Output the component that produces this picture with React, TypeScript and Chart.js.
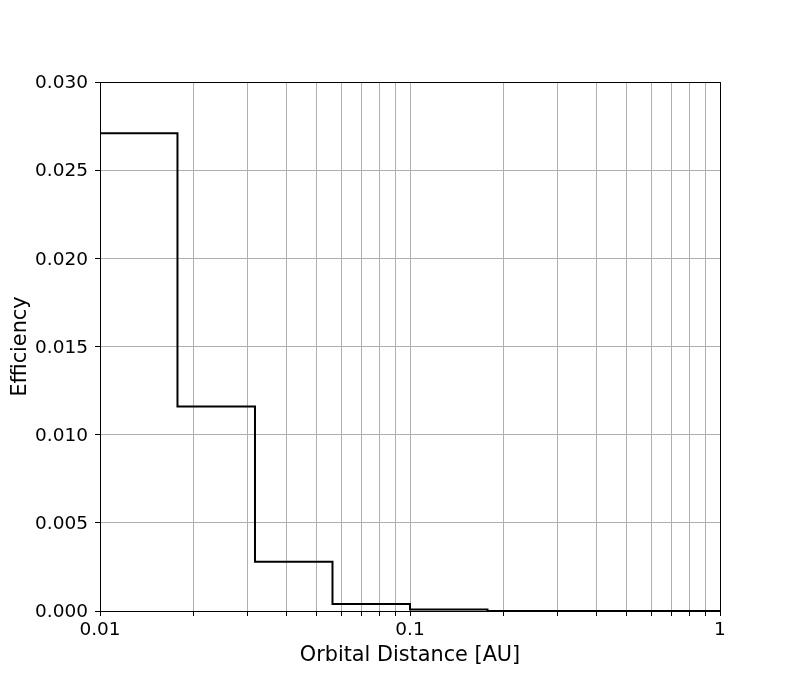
import React, { useEffect, useRef } from "react";
import { Chart, registerables } from "chart.js";

Chart.register(...registerables);

const binEdges = [0.01, 0.01778, 0.03162, 0.05623, 0.1, 0.1778, 0.3162, 0.5623, 1];
const efficiency = [0.0271, 0.0116, 0.0028, 0.0004, 0.00008, 0, 0, 0];
const xTickValues = [
  0.01, 0.02, 0.03, 0.04, 0.05, 0.06, 0.07, 0.08, 0.09,
  0.1, 0.2, 0.3, 0.4, 0.5, 0.6, 0.7, 0.8, 0.9, 1,
];
const xMajorLabels: Record<string, string> = { "0.01": "0.01", "0.1": "0.1", "1": "1" };

const FONT = "'DejaVu Sans', sans-serif";

export default function App() {
  const ref = useRef<HTMLCanvasElement | null>(null);

  useEffect(() => {
    if (!ref.current) return;
    const points = binEdges.map((x, i) => ({
      x,
      y: i < efficiency.length ? efficiency[i] : efficiency[efficiency.length - 1],
    }));

    const frame = {
      id: "frame",
      afterDraw(chart: any) {
        const { ctx, chartArea } = chart;
        ctx.save();
        ctx.strokeStyle = "#000";
        ctx.lineWidth = 1;
        ctx.strokeRect(
          Math.round(chartArea.left) + 0.5,
          Math.round(chartArea.top) + 0.5,
          Math.round(chartArea.right - chartArea.left),
          Math.round(chartArea.bottom - chartArea.top)
        );
        ctx.restore();
      },
    };

    const chart = new Chart(ref.current, {
      type: "line",
      data: {
        datasets: [
          {
            data: points,
            stepped: "before",
            borderColor: "#000",
            borderWidth: 2,
            pointRadius: 0,
            fill: false,
          },
        ],
      },
      options: {
        animation: false,
        responsive: false,
        layout: { padding: { top: 82, right: 80, left: 0, bottom: 0 } },
        plugins: { legend: { display: false }, tooltip: { enabled: false } },
        scales: {
          x: {
            type: "logarithmic",
            min: 0.01,
            max: 1,
            afterBuildTicks(scale: any) {
              scale.ticks = xTickValues.map((v) => ({ value: v }));
            },
            afterFit(scale: any) {
              scale.height = 75;
            },
            ticks: {
              autoSkip: false,
              maxRotation: 0,
              color: "#000",
              padding: 3,
              font: { family: FONT, size: 18.5 },
              callback: (v: any) => xMajorLabels[String(v)] ?? "",
            },
            grid: {
              color: "#b0b0b0",
              lineWidth: 1,
              tickColor: "#000",
              tickLength: 5,
            },
            border: { display: true, color: "#000", width: 1 },
            title: {
              display: true,
              text: "Orbital Distance [AU]",
              color: "#000",
              font: { family: FONT, size: 20.8 },
              padding: { top: 0, bottom: 18 },
            },
          },
          y: {
            type: "linear",
            min: 0,
            max: 0.03,
            afterFit(scale: any) {
              scale.width = 100;
            },
            ticks: {
              stepSize: 0.005,
              color: "#000",
              padding: 7,
              labelOffset: 1.5,
              font: { family: FONT, size: 18.5 },
              callback: (v: any) => Number(v).toFixed(3),
            },
            grid: {
              color: "#b0b0b0",
              lineWidth: 1,
              tickColor: "#000",
              tickLength: 5,
            },
            border: { display: true, color: "#000", width: 1 },
            title: {
              display: true,
              text: "Efficiency",
              color: "#000",
              font: { family: FONT, size: 20.8 },
              padding: { top: 8, bottom: 0 },
            },
          },
        },
      },
      plugins: [frame],
    });
    return () => chart.destroy();
  }, []);

  return (
    <div style={{ position: "fixed", left: 0, top: 0, width: 800, height: 686, background: "#fff" }}>
      <canvas ref={ref} width={800} height={686} />
    </div>
  );
}
